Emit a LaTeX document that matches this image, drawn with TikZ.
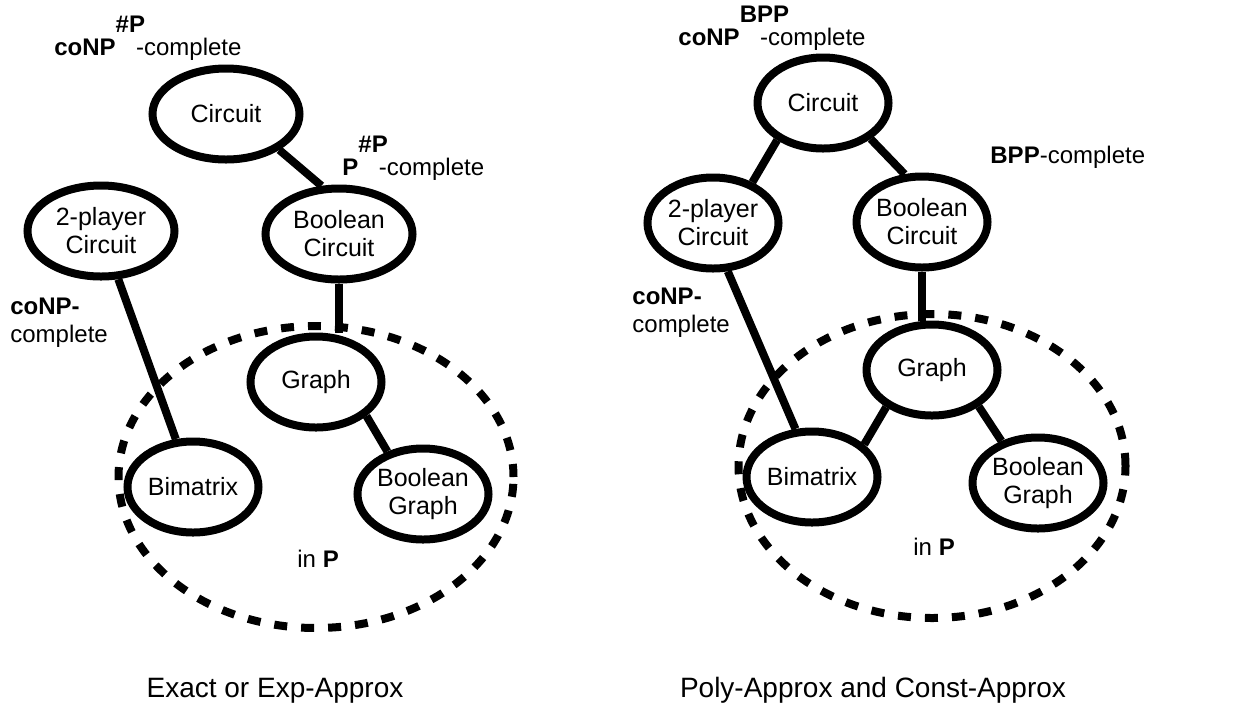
\documentclass[tikz,border=0pt]{standalone}
\usepackage{fontspec}
\setmainfont{Liberation Sans}
\usetikzlibrary{shapes.geometric}

\begin{document}
\begin{tikzpicture}[x=0.5pt,y=-0.5pt,
    prob/.style={ellipse, draw, fill=white, line width=4pt, inner sep=0pt,
      align=center, font=\fontsize{12.5}{14}\selectfont,
      minimum width=65.5pt, minimum height=45.5pt},
    wide/.style={minimum width=73.5pt},
    easy/.style={ellipse, draw, line width=4pt, dash pattern=on 6.5pt off 7pt},
    link/.style={line width=4pt},
    lbl/.style={inner sep=0pt, align=left, font=\fontsize{12}{14}\selectfont},
    caption/.style={inner sep=0pt, font=\fontsize{14}{17}\selectfont}]
  \useasboundingbox (0,0) rectangle (1252,709);

  % exact / exp-approx
  \node [easy, minimum width=197.5pt, minimum height=151pt] (leasy) at (316,477) {};
  \node [prob, wide] (lcirc) at (226,114) {Circuit};
  \node [prob, wide] (ltwo) at (101,231) {2-player\\Circuit};
  \node [prob, wide] (lbcirc) at (339,234) {Boolean\\Circuit};
  \node [prob] (lgraph) at (316,382) {Graph};
  \node [prob] (lbim) at (193,487) {Bimatrix};
  \node [prob] (lbgraph) at (423,494) {Boolean\\Graph};
  \draw [link] (lcirc.-34) -- (lbcirc.110);
  \draw [link] (ltwo) -- (lbim);
  \draw [link] (lbcirc.south) -- (lbcirc.south |- lgraph.north);
  \draw [link] (lgraph.-34) -- (lbgraph.130);
  \node [lbl, anchor=base west] (lcirclbl) at (54,55)
    {\textbf{coNP}\rlap{\raisebox{0.92em}{\textbf{\#P}}}\hspace{0.85em}-complete};
  \node [lbl, anchor=base west] (lbcirclbl) at (342,175)
    {\textbf{P}\rlap{\raisebox{0.92em}{\textbf{\#P}}}\hspace{0.85em}-complete};
  \node [lbl, anchor=base west] (ltwolbl) at (10,342) {\textbf{coNP-}\\complete};
  \node [lbl, anchor=base west] (linp) at (297,567) {in \textbf{P}};
  \node [caption, anchor=base] (lcap) at (275,697) {Exact or Exp-Approx};

  % poly-approx / const-approx
  \node [easy, minimum width=193.5pt, minimum height=152pt] (reasy) at (932,466) {};
  \node [prob] (rcirc) at (823,103) {Circuit};
  \node [prob] (rtwo) at (713,223) {2-player\\Circuit};
  \node [prob] (rbcirc) at (922,222) {Boolean\\Circuit};
  \node [prob] (rgraph) at (932,370) {Graph};
  \node [prob] (rbim) at (812,477) {Bimatrix};
  \node [prob] (rbgraph) at (1038,483) {Boolean\\Graph};
  \draw [link] (rcirc.-141) -- (rtwo.46);
  \draw [link] (rcirc.-37) -- (rbcirc.110);
  \draw [link] (rtwo.-73) -- (rbim.109);
  \draw [link] (rbcirc.south) -- (rbcirc.south |- rgraph.north);
  \draw [link] (rgraph.-141) -- (rbim.32);
  \draw [link] (rgraph.-38) -- (rbgraph.131);
  \node [lbl, anchor=base west] (rcirclbl) at (678,45)
    {\textbf{coNP}\rlap{\raisebox{0.92em}{\textbf{BPP}}}\hspace{0.85em}-complete};
  \node [lbl, anchor=base west] (rbcirclbl) at (990,163) {\textbf{BPP}-complete};
  \node [lbl, anchor=base west] (rtwolbl) at (632,332) {\textbf{coNP-}\\complete};
  \node [lbl, anchor=base west] (rinp) at (913,555) {in \textbf{P}};
  \node [caption, anchor=base] (rcap) at (873,697) {Poly-Approx and Const-Approx};
\end{tikzpicture}
\end{document}
